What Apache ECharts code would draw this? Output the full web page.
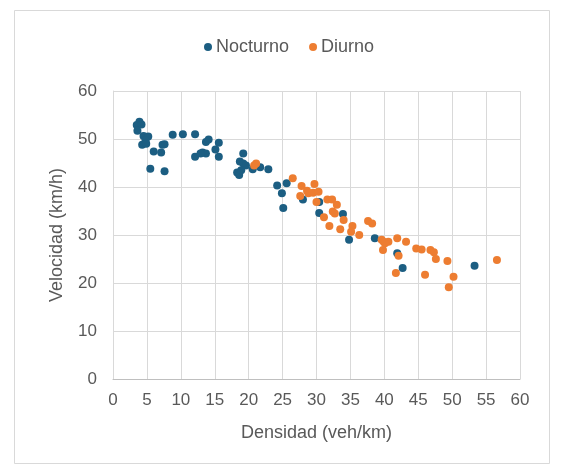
<!DOCTYPE html>
<html>
<head>
<meta charset="utf-8">
<script src="https://cdn.jsdelivr.net/npm/echarts@6/dist/echarts.min.js"></script>
<style>
  html, body { margin: 0; padding: 0; background: #fff; }
  #chart { width: 561px; height: 471px; }
</style>
</head>
<body>
<div id="chart"></div>
<script>
// Density (veh/km) vs speed (km/h), night and day observations
const seriesNames = ['Nocturno', 'Diurno'];

const nocturno = [
  [3.9, 53.6], [3.5, 52.9], [4.2, 53.0], [3.6, 51.7], [4.5, 50.6], [5.2, 50.5],
  [4.8, 49.7], [4.3, 48.8], [4.9, 49.0], [6.0, 47.4], [7.1, 47.2], [5.5, 43.8],
  [7.6, 43.3], [7.6, 48.9], [7.3, 48.8], [8.8, 50.9], [10.3, 51.0], [12.1, 51.0],
  [12.1, 46.3], [13.2, 47.2], [13.7, 47.0], [12.9, 47.0], [13.7, 49.4], [14.1, 49.9],
  [15.1, 47.8], [15.6, 49.2], [15.6, 46.3], [19.2, 47.0], [18.7, 45.3], [19.2, 44.9],
  [19.6, 44.5], [18.3, 43.0], [18.6, 42.5], [18.9, 43.5], [20.6, 43.7], [21.7, 44.1],
  [22.9, 43.7], [24.2, 40.3], [25.6, 40.8], [24.9, 38.7], [25.1, 35.6], [28.0, 37.4],
  [30.4, 36.9], [30.4, 34.6], [33.9, 34.4], [34.8, 29.0], [38.6, 29.3], [41.9, 26.2],
  [42.7, 23.1], [53.3, 23.6]
];

const diurno = [
  [21.1, 44.9], [20.8, 44.5], [26.5, 41.8], [27.8, 40.2], [29.7, 40.6], [27.6, 38.1],
  [28.6, 39.2], [28.8, 38.7], [29.5, 38.8], [30.3, 39.0], [30.0, 36.9], [31.6, 37.4],
  [32.3, 37.4], [33.0, 36.3], [32.4, 34.9], [32.7, 34.5], [31.1, 33.7], [34.0, 33.1],
  [31.9, 31.9], [33.5, 31.2], [35.3, 31.9], [35.1, 30.7], [36.3, 30.0], [37.6, 32.9],
  [38.2, 32.4], [39.6, 29.0], [39.9, 28.6], [40.6, 28.6], [40.1, 28.3], [39.8, 26.9],
  [41.9, 29.3], [43.2, 28.6], [42.1, 25.7], [41.7, 22.1], [44.7, 27.2], [45.5, 27.0],
  [46.8, 26.9], [47.3, 26.4], [47.6, 25.0], [49.3, 24.6], [46.0, 21.7], [50.2, 21.3],
  [49.5, 19.1], [56.6, 24.8]
];

const xTicks = [0, 5, 10, 15, 20, 25, 30, 35, 40, 45, 50, 55, 60];
const yTicks = [0, 10, 20, 30, 40, 50, 60];

const textColor = '#595959';
const fontFamily = 'Liberation Sans, Arial, sans-serif';

const chart = echarts.init(document.getElementById('chart'), null, { renderer: 'canvas' });

chart.setOption({
  animation: false,
  backgroundColor: '#ffffff',
  graphic: [{
    type: 'rect',
    left: 12, top: 8,
    shape: { width: 535, height: 453 },
    style: { fill: 'none', stroke: '#d9d9d9', lineWidth: 1 },
    silent: true,
    z: -1
  }],
  textStyle: { fontFamily: fontFamily },
  legend: {
    top: 33,
    left: 199,
    itemWidth: 8,
    itemHeight: 8,
    itemGap: 20,
    icon: 'circle',
    textStyle: { color: textColor, fontSize: 18, fontFamily: fontFamily, padding: [0, 0, 0, -1] },
    data: seriesNames
  },
  grid: { left: 113, right: 41, top: 91, bottom: 92, containLabel: false },
  xAxis: {
    type: 'value',
    min: xTicks[0],
    max: xTicks[xTicks.length - 1],
    interval: 5,
    name: 'Densidad (veh/km)',
    nameLocation: 'middle',
    nameGap: 45,
    nameTextStyle: { color: textColor, fontSize: 18, fontFamily: fontFamily },
    axisLine: { show: true, lineStyle: { color: '#bfbfbf', width: 1 } },
    axisTick: { show: false },
    axisLabel: { color: textColor, fontSize: 17, margin: 13, fontFamily: fontFamily },
    splitLine: { show: true, lineStyle: { color: '#d9d9d9', width: 1 } }
  },
  yAxis: {
    type: 'value',
    min: yTicks[0],
    max: yTicks[yTicks.length - 1],
    interval: 10,
    name: 'Velocidad (km/h)',
    nameLocation: 'middle',
    nameGap: 47,
    nameTextStyle: { color: textColor, fontSize: 18, fontFamily: fontFamily },
    axisLine: { show: true, lineStyle: { color: '#d9d9d9', width: 1 } },
    axisTick: { show: false },
    axisLabel: { color: textColor, fontSize: 17, margin: 16, fontFamily: fontFamily },
    splitLine: { show: true, lineStyle: { color: '#d9d9d9', width: 1 } }
  },
  series: [
    {
      name: seriesNames[0],
      type: 'scatter',
      symbol: 'circle',
      symbolSize: 8,
      itemStyle: { color: '#1c5e82', opacity: 1 },
      data: nocturno
    },
    {
      name: seriesNames[1],
      type: 'scatter',
      symbol: 'circle',
      symbolSize: 8,
      itemStyle: { color: '#ed7d31', opacity: 1 },
      data: diurno
    }
  ]
});
</script>
</body>
</html>
